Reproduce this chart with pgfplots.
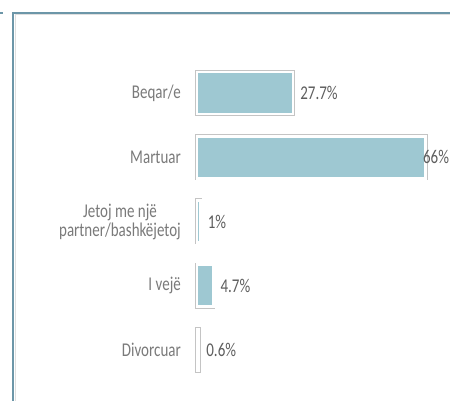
\documentclass[border=0pt]{standalone}
\usepackage{fontspec}
\setmainfont{Carlito}
\usepackage{graphicx}
\usepackage{pgfplots}
\usepackage{pgfplotstable}
\pgfplotsset{compat=1.18}
\definecolor{framec}{HTML}{6C96A8}
\definecolor{barfill}{HTML}{9EC8D2}
\definecolor{barline}{HTML}{C4C4C4}
\definecolor{labc}{HTML}{7A7A7A}
\definecolor{valc}{HTML}{5E5E5E}
\newcommand\st[1]{\scalebox{1}[1.3]{#1}}
\pgfplotstableread{
val pos off
27.7 0 6
66 1 -4
1 2 6
4.7 3 6
0.6 4 6
}\datatable
\begin{document}
\begin{tikzpicture}[x=1pt,y=1pt]
\useasboundingbox (0,0) rectangle (450,401);
\fill[white] (0,0) rectangle (450,401);
% frame
\draw[gray!25, line width=1pt] (15,0) -- (15,386.5) -- (450,386.5);
\draw[framec, line width=2pt] (13,0) -- (13,388) -- (450,388);
\draw[framec, line width=2pt] (0,388) -- (3,388);
\begin{axis}[
  at={(197pt,340pt)}, anchor=north west,
  scale only axis, width=253pt, height=321pt,
  xmin=0, xmax=73,
  ymin=-0.5, ymax=4.5, y dir=reverse,
  axis line style={draw=none},
  xtick=\empty,
  ytick={0,1,2,3,4},
  yticklabels={{\st{Beqar/e}},{\st{Martuar}},{\st{Jetoj me një}\\\st{partner/bashkëjetoj}},{\st{I vejë}},{\st{Divorcuar}}},
  yticklabel style={align=center, font=\fontsize{15}{19}\selectfont, text=labc, inner sep=0pt, xshift=-16pt},
  major tick length=0pt,
  clip=false,
  xbar, bar width=42pt,
  /pgf/number format/assume math mode=true,
  nodes near coords={\st{\pgfmathprintnumber\pgfplotspointmeta\%}},
  point meta=explicit,
  visualization depends on={\thisrow{off}\as\offs},
  every node near coord/.append style={font=\fontsize{15}{18}\selectfont, text=valc, anchor=west, inner sep=0pt, xshift=\offs pt},
]
\addplot[fill=barfill, draw=white, line width=2.6pt,
  preaction={draw=barline, line width=4pt}]
  table[x=val, y=pos, meta=val] {\datatable};
\end{axis}
\end{tikzpicture}
\end{document}
